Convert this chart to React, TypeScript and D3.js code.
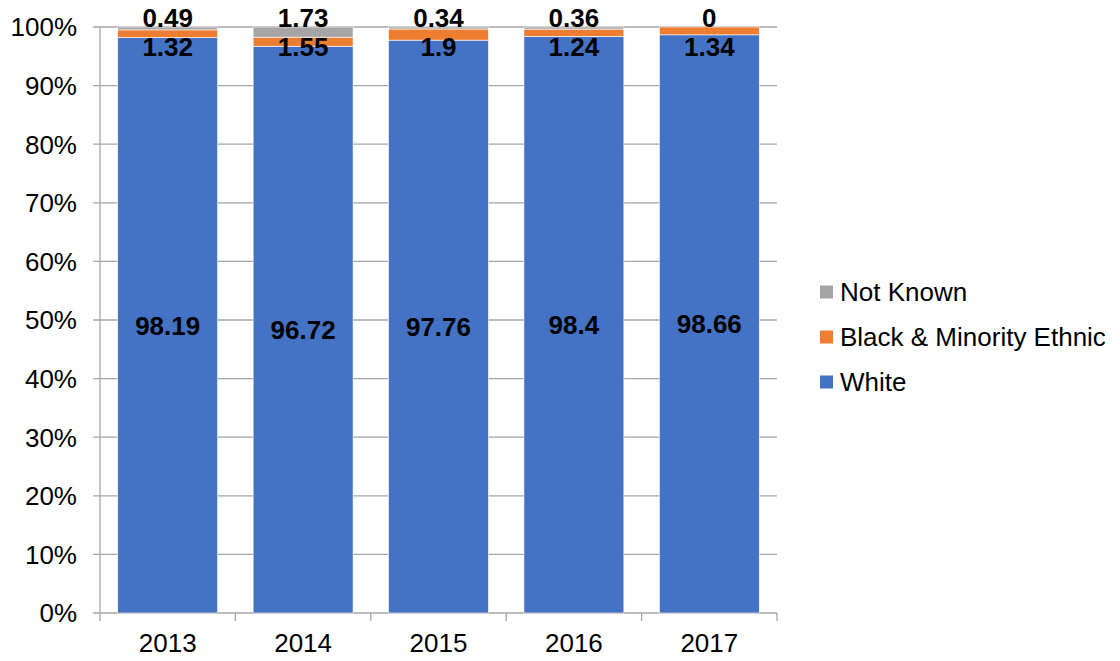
import React, { useEffect, useRef } from 'react';
import * as d3 from 'd3';

const years = ['2013', '2014', '2015', '2016', '2017'];
const white = [98.19, 96.72, 97.76, 98.4, 98.66];
const bme = [1.32, 1.55, 1.9, 1.24, 1.34];
const notKnown = [0.49, 1.73, 0.34, 0.36, 0];
const seriesNames = ['White', 'Black & Minority Ethnic', 'Not Known'];
const colors = ['#4472C4', '#ED7D31', '#A5A5A5'];
const yTicks = [0, 10, 20, 30, 40, 50, 60, 70, 80, 90, 100];

const App = () => {
  const ref = useRef<SVGSVGElement>(null);

  useEffect(() => {
    const svg = d3.select(ref.current);
    svg.selectAll('*').remove();

    const font = 'Liberation Sans, Arial, sans-serif';
    const left = 100, right = 777, top = 27, bottom = 613;

    const x = d3.scaleBand()
      .domain(years)
      .range([left, right])
      .paddingInner(0.262)
      .paddingOuter(0.131);

    const y = d3.scaleLinear().domain([0, 100]).range([bottom, top]);

    // gridlines
    svg.append('g')
      .selectAll('line')
      .data(yTicks)
      .enter()
      .append('line')
      .attr('x1', left - 7)
      .attr('x2', right)
      .attr('y1', d => y(d))
      .attr('y2', d => y(d))
      .attr('stroke', '#a6a6a6')
      .attr('stroke-width', 1.3);

    // y labels
    svg.append('g')
      .selectAll('text')
      .data(yTicks)
      .enter()
      .append('text')
      .attr('x', 77)
      .attr('y', d => y(d))
      .attr('dy', '0.36em')
      .attr('text-anchor', 'end')
      .attr('font-family', font)
      .attr('font-size', 26)
      .text(d => d + '%');

    const rows = years.map((yr, i) => ({ year: yr, white: white[i], bme: bme[i], nk: notKnown[i] }));
    const stack = d3.stack<any>().keys(['white', 'bme', 'nk'])(rows);

    stack.forEach((layer, li) => {
      svg.append('g')
        .selectAll('rect')
        .data(layer)
        .enter()
        .append('rect')
        .attr('x', d => x(d.data.year)!)
        .attr('width', x.bandwidth())
        .attr('y', d => y(d[1]))
        .attr('height', d => y(d[0]) - y(d[1]))
        .attr('fill', colors[li])
        .attr('stroke', '#ffffff')
        .attr('stroke-width', 0.6);
    });

    // axes
    svg.append('line')
      .attr('x1', left).attr('x2', left)
      .attr('y1', top).attr('y2', bottom)
      .attr('stroke', '#a6a6a6').attr('stroke-width', 1.3);

    const step = x.step();
    const bounds = d3.range(years.length + 1).map(i => left + i * step);
    svg.append('g')
      .selectAll('line')
      .data(bounds)
      .enter()
      .append('line')
      .attr('x1', d => d).attr('x2', d => d)
      .attr('y1', bottom).attr('y2', bottom + 8)
      .attr('stroke', '#a6a6a6').attr('stroke-width', 1.3);

    svg.append('g')
      .selectAll('text')
      .data(years)
      .enter()
      .append('text')
      .attr('x', d => x(d)! + x.bandwidth() / 2)
      .attr('y', 652)
      .attr('text-anchor', 'middle')
      .attr('font-family', font)
      .attr('font-size', 26)
      .text(d => d);

    // data labels
    const lbl = (vals: number[], yPos: (i: number) => number) => {
      svg.append('g')
        .selectAll('text')
        .data(vals)
        .enter()
        .append('text')
        .attr('x', (d, i) => x(years[i])! + x.bandwidth() / 2)
        .attr('y', (d, i) => yPos(i))
        .attr('dy', '0.36em')
        .attr('text-anchor', 'middle')
        .attr('font-family', font)
        .attr('font-weight', 'bold')
        .attr('font-size', 26)
        .text(d => String(d));
    };
    lbl(white, i => y(white[i] / 2));
    lbl(bme, () => y(100) + 20);
    lbl(notKnown, () => y(100) - 9);

    // legend
    const legendItems = [2, 1, 0];
    const lg = svg.append('g');
    legendItems.forEach((si, k) => {
      const cy = 292 + k * 45;
      lg.append('rect')
        .attr('x', 820).attr('y', cy - 6.5)
        .attr('width', 13).attr('height', 13)
        .attr('fill', colors[si]);
      lg.append('text')
        .attr('x', 840).attr('y', cy)
        .attr('dy', '0.36em')
        .attr('font-family', font)
        .attr('font-size', 26)
        .text(seriesNames[si]);
    });
  }, []);

  return (
    <svg ref={ref} width={1120} height={661} style={{ position: 'absolute', left: 0, top: 0, background: '#fff' }} />
  );
};

export default App;
